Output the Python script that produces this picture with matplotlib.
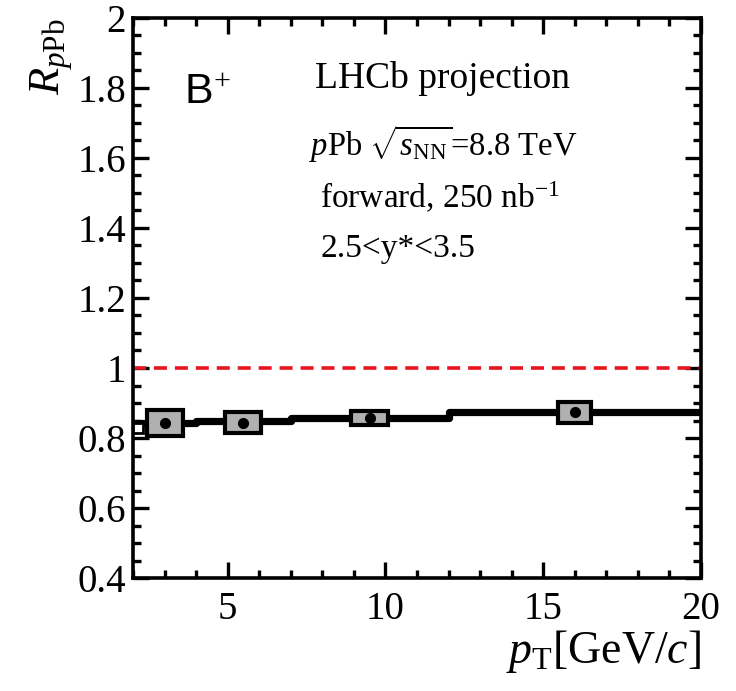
import numpy as np
import matplotlib
matplotlib.use("Agg")
import matplotlib.pyplot as plt
from matplotlib.patches import Rectangle
from matplotlib.ticker import MultipleLocator

plt.rcParams['font.family'] = 'Liberation Serif'
plt.rcParams['mathtext.fontset'] = 'custom'
plt.rcParams['mathtext.rm'] = 'Liberation Serif'
plt.rcParams['mathtext.it'] = 'Liberation Serif:italic'

# theory (step line) per pT bin
theory_edges = [2, 4, 7, 12, 20]
theory_vals = [0.842, 0.850, 0.857, 0.873]

# projected data points
pt_points = [3.0, 5.5, 9.5, 16.0]
r_points = [0.843, 0.844, 0.856, 0.873]
syst_err = [0.036, 0.029, 0.020, 0.030]
box_halfwidth = [0.57, 0.57, 0.58, 0.52]

fig = plt.figure(figsize=(7.36, 6.91), dpi=100)
ax = fig.add_axes([0.1807, 0.1635, 0.7717, 0.8105])

# reference line at R = 1
ax.axhline(1.0, color='#e8141e', linestyle=(0, (3.6, 2.2)), linewidth=2.6, zorder=2)

# theory step line
xs = np.repeat(theory_edges, 2)[1:-1]
ys = np.repeat(theory_vals, 2)
ax.plot(xs, ys, color='black', linewidth=5.2, solid_capstyle='butt', zorder=3)
# small low-edge piece of the first bin
ax.add_patch(Rectangle((2.0, 0.814), 0.33, 0.028, facecolor='white',
                       edgecolor='black', linewidth=2, zorder=3))

# systematic boxes and points
for x, y, e, w in zip(pt_points, r_points, syst_err, box_halfwidth):
    ax.add_patch(Rectangle((x - w, y - e), 2 * w, 2 * e, facecolor='#b0b0b0',
                           edgecolor='black', linewidth=3, zorder=4))
ax.plot(pt_points, r_points, 'o', color='black', markersize=7, zorder=5)

ax.set_xlim(2, 20)
ax.set_ylim(0.4, 2.0)
ax.xaxis.set_minor_locator(MultipleLocator(1))
ax.yaxis.set_minor_locator(MultipleLocator(0.05))
ax.set_xticks([5, 10, 15, 20])
ax.set_yticks([0.4, 0.6, 0.8, 1.0, 1.2, 1.4, 1.6, 1.8, 2.0])
ax.set_yticklabels(['0.4', '0.6', '0.8', '1', '1.2', '1.4', '1.6', '1.8', '2'])

ax.tick_params(which='both', direction='in', top=True, right=True, width=2.4,
               labelsize=28)
ax.tick_params(axis='y', pad=5)
ax.tick_params(axis='x', pad=9)
ax.tick_params(which='major', length=11.5)
ax.tick_params(which='minor', length=6)
for s in ax.spines.values():
    s.set_linewidth(2.6)

ax.set_xlabel(r'$p_{\mathrm{T}}$[GeV/$c$]', fontsize=33, loc='right', labelpad=0)
ax.set_ylabel(r'$R_{p\mathrm{Pb}}$', fontsize=32, loc='top', labelpad=2)

ax.text(0.09, 0.846, r'B$^{+}$', transform=ax.transAxes, fontsize=31,
        family='Liberation Sans')
ax.text(0.32, 0.875, 'LHCb projection', transform=ax.transAxes, fontsize=27)
ax.text(0.31, 0.753, r'$p$Pb $\sqrt{s_{\mathrm{NN}}}$=8.8 TeV',
        transform=ax.transAxes, fontsize=23.5)
ax.text(0.33, 0.66, r'forward, 250 nb$^{\mathrm{-1}}$', transform=ax.transAxes,
        fontsize=24)
ax.text(0.33, 0.573, '2.5<y*<3.5', transform=ax.transAxes, fontsize=24)

fig.savefig('out.png', dpi=100)
